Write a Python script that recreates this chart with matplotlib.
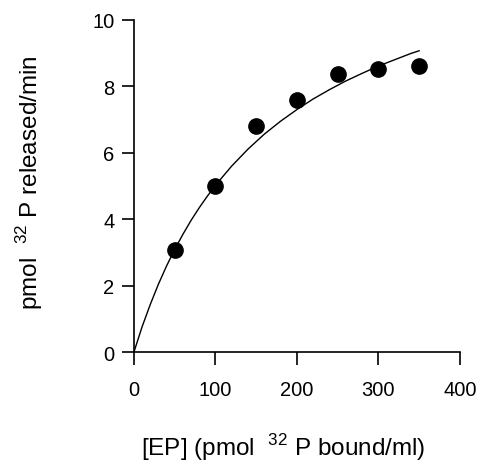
import matplotlib.pyplot as plt

plt.rcParams['font.family'] = ['Liberation Sans', 'DejaVu Sans']
plt.rcParams['mathtext.fontset'] = 'custom'
plt.rcParams['mathtext.rm'] = 'Liberation Sans'

# measured points
ep_bound = [50, 100, 150, 200, 250, 300, 350]
p_released = [3.08, 5.0, 6.8, 7.58, 8.37, 8.53, 8.61]

# fitted curve
curve_x = [0, 10, 20, 30, 40, 50, 60, 70, 80, 90, 100, 120, 140, 160, 180,
           200, 220, 240, 260, 280, 300, 320, 340, 350]
curve_y = [0, 0.76, 1.43, 2.04, 2.59, 3.09, 3.54, 3.96, 4.34, 4.69, 5.02,
           5.60, 6.11, 6.56, 6.95, 7.30, 7.62, 7.90, 8.16, 8.39, 8.61, 8.80,
           8.99, 9.07]

fig = plt.figure(figsize=(4.8, 4.64), dpi=100)
ax = fig.add_axes([0.279, 0.239, 0.679, 0.716])

ax.plot(curve_x, curve_y, color='black', lw=1.0)
ax.plot(ep_bound, p_released, 'o', color='black', markersize=11, clip_on=False)

ax.set_xlim(0, 400)
ax.set_ylim(0, 10)
ax.set_xticks([0, 100, 200, 300, 400])
ax.set_yticks([0, 2, 4, 6, 8, 10])

for s in ['top', 'right']:
    ax.spines[s].set_visible(False)
for s in ['left', 'bottom']:
    ax.spines[s].set_linewidth(1.2)

ax.tick_params(axis='both', direction='out', length=9, width=1.2, labelsize=14.5)
ax.tick_params(axis='x', pad=11)
ax.tick_params(axis='y', pad=5)

ax.set_xlabel(r'[EP] (pmol  $^{32}$ P bound/ml)', fontsize=17.5)
ax.set_ylabel(r'pmol  $^{32}$ P released/min', fontsize=17.5)
ax.xaxis.set_label_coords(0.459, -0.237)
ax.yaxis.set_label_coords(-0.273, 0.514)

plt.savefig('out.png', dpi=100)
